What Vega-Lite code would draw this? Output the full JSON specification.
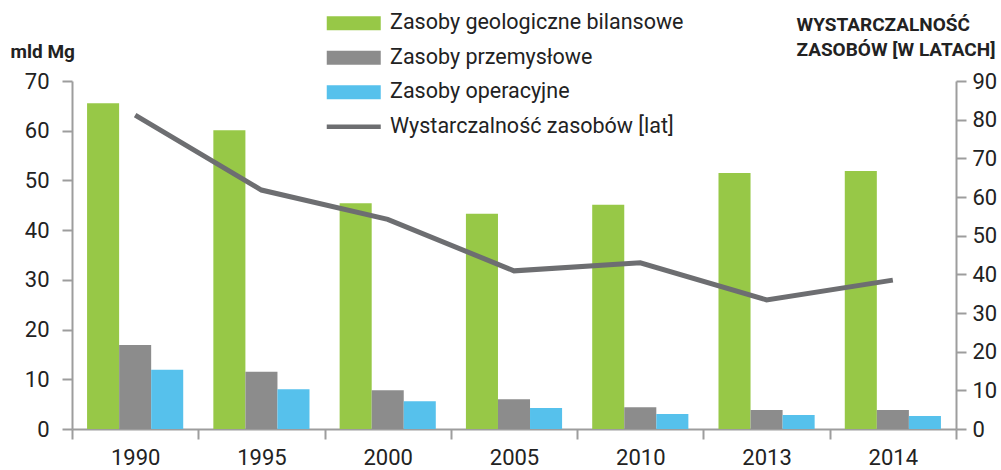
{
  "$schema": "https://vega.github.io/schema/vega-lite/v6.json",
  "width": 884,
  "height": 348,
  "autosize": "none",
  "padding": {"left": 72, "top": 81, "right": 45, "bottom": 41},
  "config": {
    "view": {"stroke": null},
    "font": "Roboto",
    "axis": {
      "domainColor": "#9d9d9d",
      "domainWidth": 2,
      "tickColor": "#9d9d9d",
      "tickWidth": 2,
      "tickSize": 10,
      "grid": false,
      "labelColor": "#222222",
      "labelFontSize": 22,
      "labelFont": "Roboto",
      "titleColor": "#222222",
      "titleFont": "Roboto"
    }
  },
  "datasets": {
    "bars": [
      {"year": "1990", "series": "Zasoby geologiczne bilansowe", "value": 65.5},
      {"year": "1990", "series": "Zasoby przemysłowe", "value": 16.9},
      {"year": "1990", "series": "Zasoby operacyjne", "value": 11.9},
      {"year": "1995", "series": "Zasoby geologiczne bilansowe", "value": 60.1},
      {"year": "1995", "series": "Zasoby przemysłowe", "value": 11.5},
      {"year": "1995", "series": "Zasoby operacyjne", "value": 8.0},
      {"year": "2000", "series": "Zasoby geologiczne bilansowe", "value": 45.4},
      {"year": "2000", "series": "Zasoby przemysłowe", "value": 7.8},
      {"year": "2000", "series": "Zasoby operacyjne", "value": 5.6},
      {"year": "2005", "series": "Zasoby geologiczne bilansowe", "value": 43.3},
      {"year": "2005", "series": "Zasoby przemysłowe", "value": 6.0},
      {"year": "2005", "series": "Zasoby operacyjne", "value": 4.2},
      {"year": "2010", "series": "Zasoby geologiczne bilansowe", "value": 45.1},
      {"year": "2010", "series": "Zasoby przemysłowe", "value": 4.4},
      {"year": "2010", "series": "Zasoby operacyjne", "value": 3.0},
      {"year": "2013", "series": "Zasoby geologiczne bilansowe", "value": 51.5},
      {"year": "2013", "series": "Zasoby przemysłowe", "value": 3.8},
      {"year": "2013", "series": "Zasoby operacyjne", "value": 2.8},
      {"year": "2014", "series": "Zasoby geologiczne bilansowe", "value": 51.9},
      {"year": "2014", "series": "Zasoby przemysłowe", "value": 3.8},
      {"year": "2014", "series": "Zasoby operacyjne", "value": 2.6}
    ],
    "line": [
      {"year": "1990", "series": "Wystarczalność zasobów [lat]", "years": 81.2},
      {"year": "1995", "series": "Wystarczalność zasobów [lat]", "years": 61.8},
      {"year": "2000", "series": "Wystarczalność zasobów [lat]", "years": 54.2},
      {"year": "2005", "series": "Wystarczalność zasobów [lat]", "years": 40.9},
      {"year": "2010", "series": "Wystarczalność zasobów [lat]", "years": 43.0},
      {"year": "2013", "series": "Wystarczalność zasobów [lat]", "years": 33.4},
      {"year": "2014", "series": "Wystarczalność zasobów [lat]", "years": 38.5}
    ]
  },
  "layer": [
    {
      "data": {"name": "bars"},
      "mark": {"type": "bar"},
      "encoding": {
        "x": {
          "field": "year",
          "type": "ordinal",
          "scale": {"paddingInner": 0, "paddingOuter": 0},
          "axis": {
            "title": null,
            "labelAngle": 0,
            "tickBand": "extent",
            "labelPadding": 8
          }
        },
        "xOffset": {
          "field": "series",
          "type": "nominal",
          "scale": {
            "domain": ["Zasoby geologiczne bilansowe", "Zasoby przemysłowe", "Zasoby operacyjne"],
            "paddingInner": 0,
            "paddingOuter": 0.47
          }
        },
        "y": {
          "field": "value",
          "type": "quantitative",
          "scale": {"domain": [0, 70], "nice": false},
          "axis": {
            "values": [0, 10, 20, 30, 40, 50, 60, 70],
            "labelPadding": 13,
            "title": "mld Mg",
            "titleAngle": 0,
            "titleX": -62,
            "titleY": -30,
            "titleAlign": "left",
            "titleBaseline": "middle",
            "titleFontWeight": "bold",
            "titleFontSize": 19
          }
        },
        "color": {
          "field": "series",
          "type": "nominal",
          "scale": {
            "domain": ["Zasoby geologiczne bilansowe", "Zasoby przemysłowe", "Zasoby operacyjne", "Wystarczalność zasobów [lat]"],
            "range": ["#97C847", "#8C8C8C", "#56C1EC", "#6D6E71"]
          },
          "legend": {
            "orient": "none",
            "legendX": 254,
            "legendY": -68.5,
            "title": null,
            "padding": 0,
            "labelFontSize": 21.5,
            "labelColor": "#222222",
            "labelFont": "Roboto",
            "labelOffset": 25.5,
            "symbolOffset": 17,
            "symbolSize": 324,
            "rowPadding": 11.5,
            "symbolStrokeWidth": 0,
            "labelLimit": 400,
            "encode": {
              "symbols": {
                "update": {
                  "shape": {"signal": "datum.value === 'Wystarczalność zasobów [lat]' ? 'M-3,-0.25H3V0.25H-3Z' : 'M-3,-0.78H3V0.78H-3Z'"},
                  "fill": {"scale": "color", "field": "value"},
                  "stroke": {"value": "transparent"},
                  "strokeWidth": {"value": 0},
                  "opacity": {"value": 1},
                  "size": {"value": 324}
                }
              }
            }
          }
        }
      }
    },
    {
      "data": {"name": "line"},
      "mark": {"type": "line", "strokeWidth": 5, "strokeCap": "butt", "strokeJoin": "miter"},
      "encoding": {
        "x": {"field": "year", "type": "ordinal"},
        "y": {
          "field": "years",
          "type": "quantitative",
          "scale": {"domain": [0, 90], "nice": false},
          "axis": {
            "orient": "right",
            "values": [0, 10, 20, 30, 40, 50, 60, 70, 80, 90],
            "labelPadding": 6,
            "title": ["WYSTARCZALNOŚĆ", "ZASOBÓW [W LATACH]"],
            "titleAngle": 0,
            "titleX": -160,
            "titleY": -51,
            "titleAlign": "left",
            "titleBaseline": "alphabetic",
            "titleLineHeight": 25,
            "titleFontWeight": "bold",
            "titleFontSize": 19
          }
        },
        "color": {"field": "series", "type": "nominal"}
      }
    }
  ],
  "resolve": {"scale": {"y": "independent"}}
}
